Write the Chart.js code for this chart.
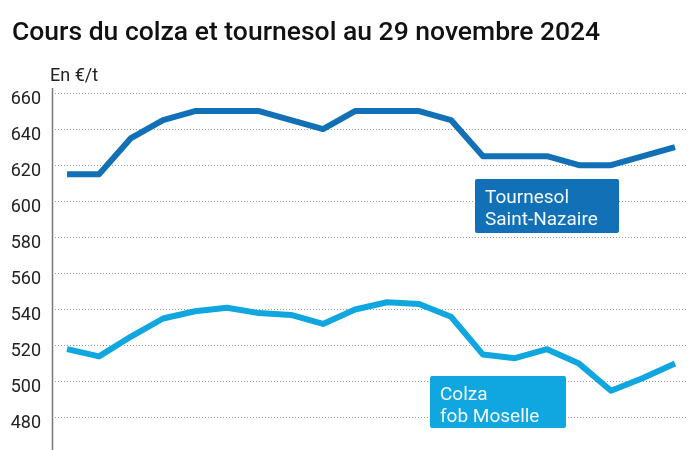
<!DOCTYPE html>
<html lang="fr">
<head>
    <meta charset="UTF-8">
    <title>Cours du colza et tournesol</title>
    <script src="https://cdn.jsdelivr.net/npm/chart.js"></script>
    <style>
        html, body { margin: 0; padding: 0; background: #fff; overflow: hidden; }
        #wrap { width: 700px; height: 450px; position: relative; overflow: hidden; }
    </style>
</head>
<body>
<div id="wrap"><canvas id="prixChart" width="700" height="472"></canvas></div>

<script>
    // données (20 relevés)
    const releves = [0, 1, 2, 3, 4, 5, 6, 7, 8, 9, 10, 11, 12, 13, 14, 15, 16, 17, 18, 19];
    const tournesol = [615, 615, 635, 645, 650, 650, 650, 645, 640, 650, 650, 650, 645, 625, 625, 625, 620, 620, 625, 630];
    const colza = [518, 514, 525, 535, 539, 541, 538, 537, 532, 540, 544, 543, 536, 515, 513, 518, 510, 495, 502, 510];
    const yTicks = [480, 500, 520, 540, 560, 580, 600, 620, 640, 660];

    const titre = 'Cours du colza et tournesol au 29 novembre 2024';
    const unite = 'En €/t';

    const darkBlue = '#1271b6';
    const lightBlue = '#10a6df';

    // titre, unité, axe vertical et étiquettes des courbes
    const decor = {
        id: 'decor',
        beforeDatasetsDraw(chart) {
            const ctx = chart.ctx;
            const a = chart.chartArea;
            ctx.save();
            ctx.strokeStyle = '#777';
            ctx.lineWidth = 1.5;
            ctx.beginPath();
            ctx.moveTo(a.left + 0.5, a.top - 5);
            ctx.lineTo(a.left + 0.5, 450);
            ctx.stroke();
            ctx.restore();
        },
        afterDatasetsDraw(chart) {
            const ctx = chart.ctx;
            ctx.save();
            ctx.fillStyle = '#111';
            ctx.font = '500 26.5px Roboto';
            ctx.textBaseline = 'alphabetic';
            ctx.fillText(titre, 12, 40);

            ctx.fillStyle = '#222';
            ctx.font = '18px Roboto';
            ctx.fillText(unite, 50, 81);

            function etiquette(x, y, w, h, color, lines) {
                ctx.fillStyle = color;
                ctx.beginPath();
                ctx.roundRect(x, y, w, h, 2);
                ctx.fill();
                ctx.fillStyle = '#f2f8fc';
                ctx.font = '19px Roboto';
                lines.forEach((l, i) => ctx.fillText(l, x + 10, y + 24 + i * 22));
            }
            etiquette(475, 179, 144, 54, darkBlue, ['Tournesol', 'Saint-Nazaire']);
            etiquette(430, 376, 136, 52, lightBlue, ['Colza', 'fob Moselle']);
            ctx.restore();
        }
    };

    const ctx = document.getElementById('prixChart').getContext('2d');
    const chart = new Chart(ctx, {
        type: 'line',
        data: {
            datasets: [{
                label: 'Tournesol Saint-Nazaire',
                data: releves.map((r, i) => ({ x: r, y: tournesol[i] })),
                borderColor: darkBlue,
                borderWidth: 6,
                pointRadius: 0,
                borderJoinStyle: 'round',
                fill: false
            }, {
                label: 'Colza fob Moselle',
                data: releves.map((r, i) => ({ x: r, y: colza[i] })),
                borderColor: lightBlue,
                borderWidth: 6,
                pointRadius: 0,
                borderJoinStyle: 'round',
                fill: false
            }]
        },
        options: {
            responsive: false,
            animation: false,
            layout: { padding: { top: 93, right: 13, bottom: 0, left: 0 } },
            plugins: {
                legend: { display: false },
                tooltip: { enabled: false }
            },
            scales: {
                x: {
                    type: 'linear',
                    display: false,
                    min: -0.47,
                    max: 19.375
                },
                y: {
                    min: 462,
                    max: 660,
                    afterFit: scale => { scale.width = 52; },
                    afterBuildTicks: scale => {
                        scale.ticks = yTicks.map(v => ({ value: v }));
                    },
                    ticks: {
                        color: '#222',
                        font: { family: 'Roboto', size: 18 },
                        padding: 11,
                        labelOffset: 6
                    },
                    grid: {
                        color: '#9a9a9a',
                        lineWidth: 1,
                        drawTicks: false
                    },
                    border: {
                        display: false,
                        dash: [1, 2]
                    }
                }
            }
        },
        plugins: [decor]
    });
</script>
</body>
</html>
